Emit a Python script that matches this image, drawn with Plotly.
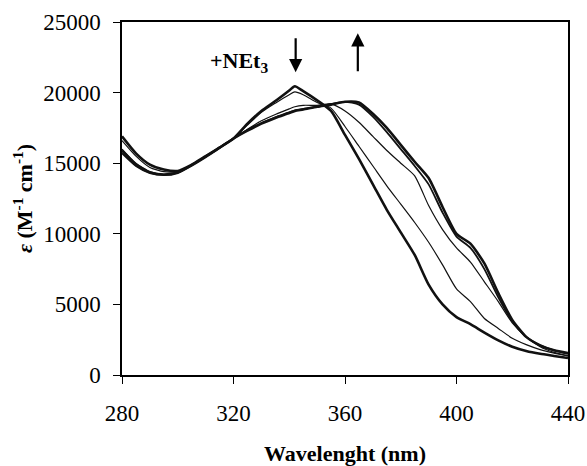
import plotly.graph_objects as go

# wavelength grid (nm)
wavelength = [280, 285, 290, 295, 300, 305, 310, 315, 320, 325, 330, 335, 340, 342,
              345, 350, 355, 360, 365, 370, 375, 380, 385, 390, 395, 400, 405, 410,
              415, 420, 425, 430, 435, 440]

# molar absorptivity (M-1 cm-1), titration with NEt3
eps_1 = [16900, 15700, 14900, 14550, 14450, 14900, 15500, 16100, 16750, 17800, 18700, 19400, 20150, 20450,
         20100, 19450, 18700, 17000, 15300, 13500, 11700, 10100, 8500, 6400, 5000, 4100, 3600, 3000,
         2450, 2000, 1700, 1500, 1350, 1200]
eps_2 = [16600, 15500, 14700, 14400, 14400, 14900, 15500, 16100, 16750, 17700, 18600, 19250, 19850, 20050,
         19850, 19300, 18900, 17600, 16200, 14800, 13400, 12100, 10800, 9400, 7800, 6100, 5200, 4000,
         3300, 2600, 2150, 1800, 1550, 1350]
eps_3 = [16000, 15000, 14400, 14200, 14350, 14850, 15450, 16100, 16750, 17400, 18000, 18450, 18850, 19000,
         19100, 19100, 19200, 18700, 17900, 16900, 15900, 15000, 14100, 12000, 10300, 9000, 8000, 6600,
         5200, 3700, 2700, 2000, 1600, 1350]
eps_4 = [15700, 14800, 14300, 14150, 14300, 14850, 15450, 16100, 16750, 17350, 17850, 18250, 18600, 18750,
         18850, 19000, 19200, 19350, 19150, 18300, 17200, 16000, 14800, 13500, 11500, 9800, 9000, 7500,
         5500, 3800, 2700, 2100, 1750, 1500]
eps_5 = [15900, 14900, 14350, 14200, 14350, 14850, 15450, 16100, 16750, 17300, 17800, 18200, 18550, 18700,
         18800, 19000, 19150, 19350, 19300, 18500, 17500, 16300, 15100, 13950, 11900, 10000, 9300, 7900,
         5800, 3900, 2700, 2100, 1750, 1550]

series = [eps_1, eps_2, eps_3, eps_4, eps_5]
widths = [2.6, 1.2, 1.2, 1.8, 2.6]

fig = go.Figure()
for ys, w in zip(series, widths):
    fig.add_trace(go.Scatter(x=wavelength, y=ys, mode="lines",
                             line=dict(color="#111111", width=w, shape="spline", smoothing=0.6),
                             showlegend=False, hoverinfo="skip"))

serif = "Liberation Serif, Times New Roman, serif"

fig.add_annotation(x=322, y=22200, text="<b>+NEt<sub>3</sub></b>", showarrow=False,
                   font=dict(family=serif, size=22, color="black"))
# down arrow (342 nm band decreases)
fig.add_annotation(x=342.3, y=21450, ax=342.3, ay=23950, xref="x", yref="y",
                   axref="x", ayref="y", text="", showarrow=True,
                   arrowhead=2, arrowsize=1.2, arrowwidth=2.2, arrowcolor="black")
# up arrow (red-shifted band increases)
fig.add_annotation(x=364.6, y=24200, ax=364.6, ay=21400, xref="x", yref="y",
                   axref="x", ayref="y", text="", showarrow=True,
                   arrowhead=2, arrowsize=1.2, arrowwidth=2.2, arrowcolor="black")

fig.update_layout(
    width=587, height=466,
    margin=dict(l=122, r=19, t=22, b=91),
    paper_bgcolor="white", plot_bgcolor="white",
    font=dict(family=serif, size=23, color="black"),
)
fig.update_xaxes(range=[280, 440], dtick=40, tick0=280, automargin=False,
                 showline=True, linecolor="black", linewidth=1.5, mirror=True,
                 ticks="outside", ticklen=7, tickwidth=1.3, tickcolor="black",
                 showgrid=False, zeroline=False, ticklabelstandoff=10,
                 title=dict(text="<b>Wavelenght (nm)</b>", font=dict(size=22), standoff=22))
fig.update_yaxes(range=[0, 25000], dtick=5000, tickformat="d", automargin=False,
                 showline=True, linecolor="black", linewidth=1.5, mirror=True,
                 ticks="outside", ticklen=7, tickwidth=1.3, tickcolor="black",
                 showgrid=False, zeroline=False, ticklabelstandoff=8,
                 title=dict(text="<b><i>ε</i> (M<sup>-1</sup> cm<sup>-1</sup>)</b>",
                            font=dict(size=22), standoff=4))

# drop the default 8px page margin so the figure fills the window exactly
fig.write_html("out.html", config={"displayModeBar": False},
               post_script="document.body.style.margin='0';document.body.style.overflow='hidden';")
